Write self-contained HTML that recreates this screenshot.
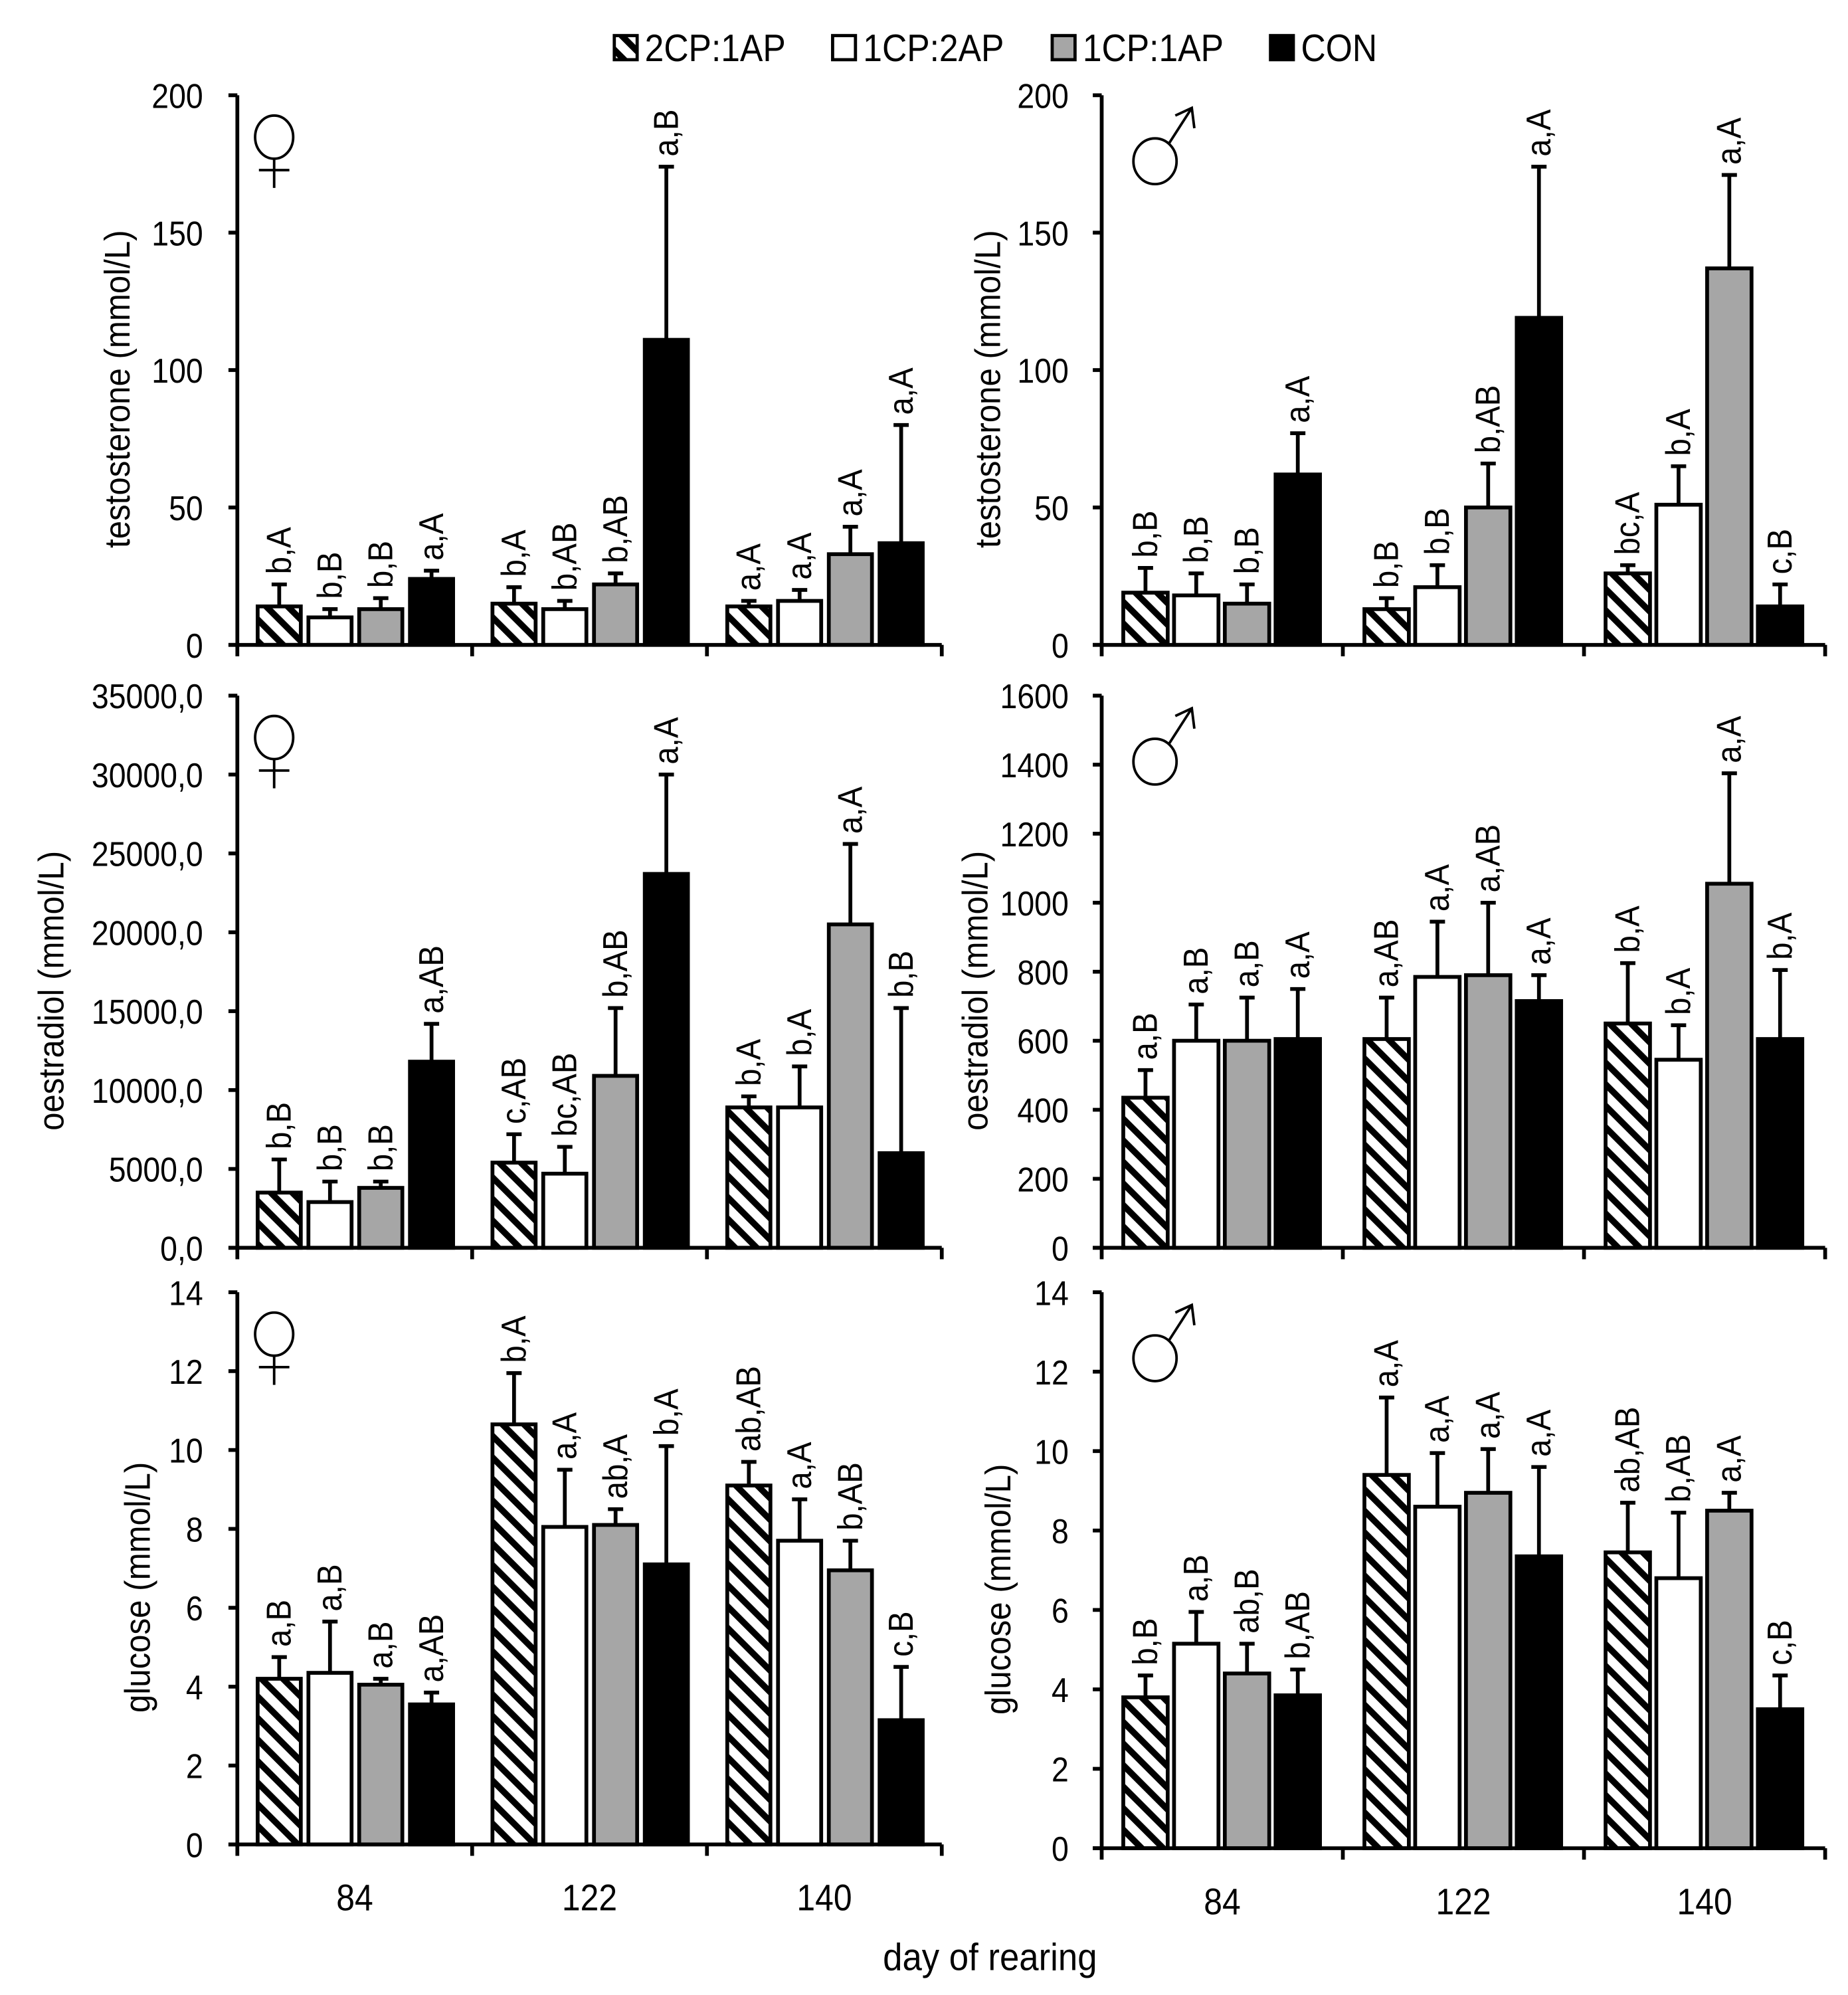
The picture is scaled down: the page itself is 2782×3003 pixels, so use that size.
<!DOCTYPE html>
<html><head><meta charset="utf-8"><style>
html,body{margin:0;padding:0;background:#fff}
svg{display:block}
text{font-family:"Liberation Sans Narrow","Liberation Sans",sans-serif;fill:#000}
</style></head><body>
<svg id="chart" xmlns="http://www.w3.org/2000/svg" width="2782" height="3003" viewBox="0 0 1456 1571.6">
<defs>
<pattern id="hatch" patternUnits="userSpaceOnUse" width="12" height="12" patternTransform="rotate(-45)">
<rect width="12" height="12" fill="#fff"/><rect x="0" y="0" width="5" height="12" fill="#000"/>
</pattern>
</defs>
<g id="legend"></g>
<g id="panels"></g>
<text x="780" y="1552" font-size="30" text-anchor="middle" transform="translate(780,0) scale(0.92,1) translate(-780,0)">day of rearing</text>
</svg>
<script>
const categories = ["84", "122", "140"];
const seriesNames = ["2CP:1AP", "1CP:2AP", "1CP:1AP", "CON"];
const testoF = [[14,15,14],[10,13,16],[13,22,33],[24,111,37]];
const testoFErr = [[22,21,16],[13,16,20],[17,26,43],[27,174,80]];
const testoFLab = [["b,A","b,A","a,A"],["b,B","b,AB","a,A"],["b,B","b,AB","a,A"],["a,A","a,B","a,A"]];
const testoM = [[19,13,26],[18,21,51],[15,50,137],[62,119,14]];
const testoMErr = [[28,17,29],[26,29,65],[22,66,171],[77,174,22]];
const testoMLab = [["b,B","b,B","bc,A"],["b,B","b,B","b,A"],["b,B","b,AB","a,A"],["a,A","a,A","c,B"]];
const oestF = [[3500,5400,8900],[2900,4700,8900],[3800,10900,20500],[11800,23700,6000]];
const oestFErr = [[5600,7200,9600],[4200,6400,11500],[4200,15200,25600],[14200,30000,15200]];
const oestFLab = [["b,B","c,AB","b,A"],["b,B","bc,AB","b,A"],["b,B","b,AB","a,A"],["a,AB","a,A","b,B"]];
const oestM = [[435,605,650],[600,785,545],[600,790,1055],[605,715,605]];
const oestMErr = [[515,725,825],[705,945,645],[725,1000,1375],[750,790,805]];
const oestMLab = [["a,B","a,AB","b,A"],["a,B","a,A","b,A"],["a,B","a,AB","a,A"],["a,A","a,A","b,A"]];
const gluF = [[4.2,10.65,9.1],[4.35,8.05,7.7],[4.05,8.1,6.95],[3.55,7.1,3.15]];
const gluFErr = [[4.75,11.95,9.7],[5.65,9.5,8.75],[4.2,8.5,7.7],[3.85,10.1,4.5]];
const gluFLab = [["a,B","b,A","ab,AB"],["a,B","a,A","a,A"],["a,B","ab,A","b,AB"],["a,AB","b,A","c,B"]];
const gluM = [[3.8,9.4,7.45],[5.15,8.6,6.8],[4.4,8.95,8.5],[3.85,7.35,3.5]];
const gluMErr = [[4.35,11.35,8.7],[5.95,9.95,8.45],[5.15,10.05,8.95],[4.5,9.6,4.35]];
const gluMLab = [["b,B","a,A","ab,AB"],["a,B","a,A","b,AB"],["ab,B","a,A","a,A"],["b,AB","a,A","c,B"]];
const testoTicks = [0,50,100,150,200];
const oestFTicks = [0,5000,10000,15000,20000,25000,30000,35000];
const oestFTickLabels = ["0,0","5000,0","10000,0","15000,0","20000,0","25000,0","30000,0","35000,0"];
const oestMTicks = [0,200,400,600,800,1000,1200,1400,1600];
const gluTicks = [0,2,4,6,8,10,12,14];

const NS="http://www.w3.org/2000/svg";
const fills=["url(#hatch)","#fff","#a6a6a6","#000"];
function mk(tag,attrs,parent){const e=document.createElementNS(NS,tag);for(const k in attrs)e.setAttribute(k,attrs[k]);parent.appendChild(e);return e;}
function sx(x){return `translate(${x},0) scale(0.9,1) translate(${-x},0)`;}

const lg=document.getElementById('legend');
const lx=[484,656,829,1001];
seriesNames.forEach((s,i)=>{
  const r=mk('rect',{x:lx[i],y:28,width:18,height:19,fill:fills[i],stroke:'#000','stroke-width':2.5},lg);
  
  
  const t=mk('text',{x:lx[i]+24,y:48,'font-size':30,transform:sx(lx[i]+24)},lg);
  t.textContent=s;
  
  
});

const panels=[
 {id:'testosterone-female',x0:187,gw:185,off:16,bw:34,top:75,bot:508,max:200,ticks:testoTicks,tl:null,v:testoF,e:testoFErr,l:testoFLab,title:'testosterone (mmol/L)',sym:'f',titleX:92,tlx:160,xlabels:false},
 {id:'testosterone-male',x0:868,gw:190,off:17,bw:35,top:75,bot:508,max:200,ticks:testoTicks,tl:null,v:testoM,e:testoMErr,l:testoMLab,title:'testosterone (mmol/L)',sym:'m',titleX:778,tlx:842,xlabels:false},
 {id:'oestradiol-female',x0:187,gw:185,off:16,bw:34,top:548,bot:983,max:35000,ticks:oestFTicks,tl:oestFTickLabels,v:oestF,e:oestFErr,l:oestFLab,title:'oestradiol (mmol/L)',sym:'f',titleX:40,tlx:160,xlabels:false},
 {id:'oestradiol-male',x0:868,gw:190,off:17,bw:35,top:548,bot:983,max:1600,ticks:oestMTicks,tl:null,v:oestM,e:oestMErr,l:oestMLab,title:'oestradiol (mmol/L)',sym:'m',titleX:768,tlx:842,xlabels:false},
 {id:'glucose-female',x0:187,gw:185,off:16,bw:34,top:1018,bot:1453,max:14,ticks:gluTicks,tl:null,v:gluF,e:gluFErr,l:gluFLab,title:'glucose (mmol/L)',sym:'f',titleX:108,tlx:160,xlabels:true},
 {id:'glucose-male',x0:868,gw:190,off:17,bw:35,top:1018,bot:1456,max:14,ticks:gluTicks,tl:null,v:gluM,e:gluMErr,l:gluMLab,title:'glucose (mmol/L)',sym:'m',titleX:786,tlx:842,xlabels:true}
];
const root=document.getElementById('panels');
panels.forEach(p=>{
  const g=mk('g',{},root);
  
  
  const yS=v=>p.bot-(v/p.max)*(p.bot-p.top);
  const xEnd=p.x0+p.gw*categories.length;
  p.ticks.forEach((t,i)=>{
    const y=yS(t);
    mk('line',{x1:p.x0-7,x2:p.x0,y1:y,y2:y,stroke:'#000','stroke-width':3},g);
    const tx=mk('text',{x:p.tlx,y:y+10,'font-size':27,'text-anchor':'end',transform:sx(p.tlx)},g);
    tx.textContent=p.tl?p.tl[i]:String(t);
    
    
  });
  categories.forEach((c,gi)=>{
    p.v.forEach((ser,si)=>{
      const val=ser[gi], err=p.e[si][gi];
      const x=p.x0+gi*p.gw+p.off+si*40;
      const cx=x+p.bw/2;
      const ye=yS(err);
      const el=mk('line',{x1:cx,x2:cx,y1:yS(val),y2:ye,stroke:'#000','stroke-width':3},g);
      
      
      mk('line',{x1:cx-6,x2:cx+6,y1:ye,y2:ye,stroke:'#000','stroke-width':3},g);
      const r=mk('rect',{x:x,y:yS(val),width:p.bw,height:p.bot-yS(val),fill:fills[si],stroke:'#000','stroke-width':3},g);
      
      
      const lb=mk('text',{x:0,y:0,'font-size':27,transform:`translate(${cx+9},${ye-8}) rotate(-90) scale(0.92,1)`},g);
      lb.textContent=p.l[si][gi];
      
      
    });
    if(p.xlabels){
      const mx=p.x0+gi*p.gw+p.gw/2;
      const xt=mk('text',{x:mx,y:p.bot+52,'font-size':29,'text-anchor':'middle',transform:sx(mx)},g);
      xt.textContent=c;
      
      
    }
  });
  const ya=mk('line',{x1:p.x0,x2:p.x0,y1:p.top,y2:p.bot+1.5,stroke:'#000','stroke-width':3},g);
  
  
  const xa=mk('line',{x1:p.x0-7,x2:xEnd,y1:p.bot,y2:p.bot,stroke:'#000','stroke-width':3},g);
  
  
  for(let k=0;k<=categories.length;k++){
    const x=p.x0+k*p.gw;
    mk('line',{x1:x,x2:x,y1:p.bot,y2:p.bot+9,stroke:'#000','stroke-width':3},g);
  }
  const ty=(p.top+p.bot)/2+15;
  const tt=mk('text',{x:0,y:0,'font-size':28,'text-anchor':'middle',transform:`translate(${p.titleX+10},${ty}) rotate(-90) scale(0.92,1)`},g);
  tt.textContent=p.title;
  
  
  const sg=mk('g',{fill:'none',stroke:'#000','stroke-width':2},g);
  
  
  if(p.sym==='f'){
    const cx=p.x0+29, cy=p.top+33;
    mk('ellipse',{cx:cx,cy:cy,rx:15,ry:17},sg);
    mk('line',{x1:cx,x2:cx,y1:cy+17,y2:cy+40},sg);
    mk('line',{x1:cx-12,x2:cx+12,y1:cy+26,y2:cy+26},sg);
  } else {
    const cx=p.x0+42, cy=p.top+52;
    mk('ellipse',{cx:cx,cy:cy,rx:17,ry:18},sg);
    mk('line',{x1:cx+11,x2:cx+29,y1:cy-14,y2:cy-42},sg);
    mk('path',{d:`M${cx+16},${cy-36} L${cx+29},${cy-42} L${cx+31},${cy-26}`},sg);
  }
});
</script>
</body></html>
